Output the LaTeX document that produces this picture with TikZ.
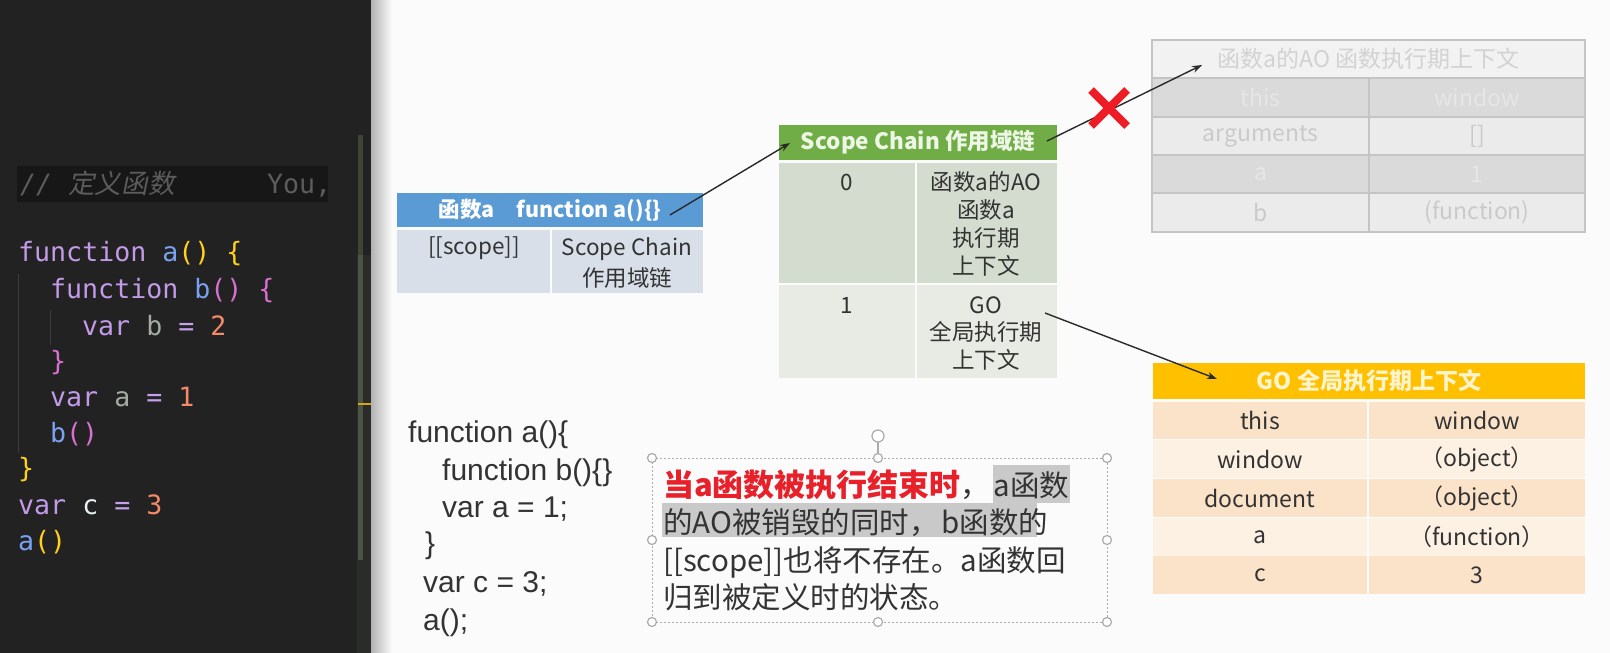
\documentclass[tikz,border=0pt]{standalone}
\usepackage{fontspec}
\usetikzlibrary{arrows.meta}
\setmainfont{Liberation Sans}
\newfontfamily\cjk{Noto Sans CJK SC}
\newfontfamily\cjksl{Noto Sans CJK SC}[FakeSlant=0.2]
\newfontfamily\mono{DejaVu Sans Mono}
\definecolor{codebg}{HTML}{222222}
\definecolor{cmtbg}{HTML}{171717}
\definecolor{cmt}{HTML}{5A5D5A}
\definecolor{kw}{HTML}{C39AE8}
\definecolor{fn}{HTML}{7BA2F2}
\definecolor{by}{HTML}{FFD11A}
\definecolor{bm}{HTML}{D86FD3}
\definecolor{vg}{HTML}{A3ACA3}
\definecolor{num}{HTML}{F48A67}
\definecolor{eqc}{HTML}{C8A0EE}
\definecolor{cw}{HTML}{E8F2F2}
\definecolor{guidec}{HTML}{3C3C3C}
\definecolor{sbdark}{HTML}{3E4535}
\definecolor{sblight}{HTML}{4A5444}
\definecolor{sbarea}{HTML}{2A2C2A}
\definecolor{markc}{HTML}{D9A516}
\definecolor{pagebg}{HTML}{FBFBFB}
\definecolor{txt}{HTML}{333333}
\definecolor{blueh}{HTML}{5B9BD5}
\definecolor{bluec}{HTML}{D9DFE9}
\definecolor{greenh}{HTML}{70AD47}
\definecolor{greent}{HTML}{EEF7E6}
\definecolor{greenA}{HTML}{D4DCCF}
\definecolor{greenB}{HTML}{E7EBE4}
\definecolor{aohead}{HTML}{F2F2F2}
\definecolor{aoA}{HTML}{DADADA}
\definecolor{aoB}{HTML}{EBEBEB}
\definecolor{aoline}{HTML}{C4C4C4}
\definecolor{aotA}{HTML}{E6E6E6}
\definecolor{aotB}{HTML}{CACACA}
\definecolor{aoth}{HTML}{D2D2D2}
\definecolor{gohc}{HTML}{FFC000}
\definecolor{goht}{HTML}{FFF4CC}
\definecolor{goA}{HTML}{FBE3C9}
\definecolor{goB}{HTML}{FDF1E4}
\definecolor{arrc}{HTML}{2A2A2A}
\definecolor{xred}{HTML}{EE1C24}
\definecolor{nred}{HTML}{E8202A}
\definecolor{hlc}{HTML}{C9C9C9}
\definecolor{hdl}{HTML}{ABABAB}
\tikzset{
  cell/.style={anchor=north west, inner sep=0pt, outer sep=0pt},
  tt/.style={font=\cjk\fontsize{22.5}{27.7}\selectfont, text=txt, align=center, inner sep=0pt},
  ttg/.style={font=\cjk\fontsize{23}{27.7}\selectfont, text=txt, align=center, inner sep=0pt},
  arr/.style={draw=arrc, line width=1.4pt, -{Stealth[length=10pt,width=7pt]}},
  handle/.style={circle, draw=hdl, fill=white, line width=1.2pt, minimum size=9pt, inner sep=0pt},
  codeln/.style={anchor=base west, inner sep=0pt, font=\mono\fontsize{26.6}{30}\selectfont, text=cw},
  jsln/.style={anchor=base west, inner sep=0pt, font=\fontsize{30}{36}\selectfont, text=txt},
  noteln/.style={anchor=base west, inner sep=0pt, font=\cjk\fontsize{29.5}{36}\selectfont, text=txt},
}
\begin{document}
\begin{tikzpicture}[x=1pt,y=-1pt]
\useasboundingbox (0,0) rectangle (1610,653);
% ---------- code editor panel ----------
\fill[fill=codebg] (0,0) rectangle (371,653);
\fill[fill=sbarea] (357,255) rectangle (371,653);
\fill[fill=sbdark] (358,135) rectangle (363,255);
\fill[fill=sblight] (358,255) rectangle (363,560);
\fill[fill=markc] (358,403) rectangle (371,405);
\fill[fill=cmtbg] (17,166) rectangle (328,202);
\node[codeln, text=cmt] (cm) at (20,193) {{\itshape //} {\cjksl 定义函数}};
\node[codeln, text=cmt] (you) at (267,193) {You,};
\draw[draw=guidec, line width=1pt] (18,274) -- (18,453);
\draw[draw=guidec, line width=1pt] (50,310) -- (50,345);
\node[codeln] (c1) at (18,261) {\textcolor{kw}{function} \textcolor{fn}{a}\textcolor{by}{()} \textcolor{by}{\{}};
\node[codeln] (c2) at (50,298) {\textcolor{kw}{function} \textcolor{fn}{b}\textcolor{bm}{()} \textcolor{bm}{\{}};
\node[codeln] (c3) at (82,335) {\textcolor{kw}{var} \textcolor{vg}{b} \textcolor{eqc}{=} \textcolor{num}{2}};
\node[codeln] (c4) at (50,370) {\textcolor{bm}{\}}};
\node[codeln] (c5) at (50,406) {\textcolor{kw}{var} \textcolor{vg}{a} \textcolor{eqc}{=} \textcolor{num}{1}};
\node[codeln] (c6) at (50,442) {\textcolor{fn}{b}\textcolor{bm}{()}};
\node[codeln] (c7) at (18,477) {\textcolor{by}{\}}};
\node[codeln] (c8) at (18,514) {\textcolor{kw}{var} \textcolor{cw}{c} \textcolor{eqc}{=} \textcolor{num}{3}};
\node[codeln] (c9) at (18,550) {\textcolor{fn}{a}\textcolor{by}{()}};
% ---------- slide ----------
\fill[fill=pagebg] (371,0) rectangle (1610,653);
\shade[left color=black!30, right color=pagebg] (371,0) rectangle (392,653);
% function a table
\node[cell, fill=blueh, minimum width=306pt, minimum height=34pt, font=\cjk\bfseries\fontsize{21.5}{26}\selectfont, text=white] (ahead) at (397,193) {函数a\hspace{22pt}function a()\{\}};
\node[cell, fill=bluec, minimum width=153pt, minimum height=63pt] (acell1) at (397,230) {};
\node[cell, fill=bluec, minimum width=151pt, minimum height=63pt] (acell2) at (552,230) {};
\node[tt, anchor=base] (ascope) at (474,254) {[[scope]]};
\node[tt, anchor=base, font=\cjk\fontsize{22.5}{31}\selectfont] (achain) at (627,286) {Scope Chain\\作用域链};
% scope chain table
\node[cell, fill=greenh, minimum width=278pt, minimum height=35pt, font=\cjk\bfseries\fontsize{22.5}{26}\selectfont, text=greent] (shead) at (779,125) {Scope Chain 作用域链};
\node[cell, fill=greenA, minimum width=136pt, minimum height=120pt] (s00) at (779,163) {};
\node[cell, fill=greenA, minimum width=140pt, minimum height=120pt] (s01) at (917,163) {};
\node[cell, fill=greenB, minimum width=136pt, minimum height=93pt] (s10) at (779,285) {};
\node[cell, fill=greenB, minimum width=140pt, minimum height=93pt] (s11) at (917,285) {};
\node[tt, anchor=base] (st0) at (847,190) {0};
\node[tt, anchor=base] (st0b) at (986,274) {函数a的AO\\函数a\\执行期\\上下文};
\node[tt, anchor=base] (st1) at (847,313) {1};
\node[tt, anchor=base] (st1b) at (986,368.5) {GO\\全局执行期\\上下文};
% faded AO table
\node[cell, fill=aohead, minimum width=433pt, minimum height=38pt, font=\cjk\fontsize{23}{26}\selectfont, text=aoth] (aoh) at (1152,40) {函数a的AO 函数执行期上下文};
\node[cell, fill=aoA, minimum width=217pt, minimum height=39pt, ttg, text=aotA] (ao1l) at (1152,78) {this};
\node[cell, fill=aoA, minimum width=216pt, minimum height=39pt, ttg, text=aotA] (ao1r) at (1369,78) {window};
\node[cell, fill=aoB, minimum width=217pt, minimum height=38pt, ttg, text=aotB] (ao2l) at (1152,117) {arguments};
\node[cell, fill=aoB, minimum width=216pt, minimum height=38pt, ttg, text=aotB] (ao2r) at (1369,117) {[]};
\node[cell, fill=aoA, minimum width=217pt, minimum height=38pt, ttg, text=aotA] (ao3l) at (1152,155) {a};
\node[cell, fill=aoA, minimum width=216pt, minimum height=38pt, ttg, text=aotA] (ao3r) at (1369,155) {1};
\node[cell, fill=aoB, minimum width=217pt, minimum height=39pt, ttg, text=aotB] (ao4l) at (1152,193) {b};
\node[cell, fill=aoB, minimum width=216pt, minimum height=39pt, ttg, text=aotB] (ao4r) at (1369,193) {(function)};
\draw[draw=aoline, line width=1.5pt] (1152,40) rectangle (1585,232);
\draw[draw=aoline, line width=1.2pt] (1152,78) -- (1585,78) (1152,117) -- (1585,117) (1152,155) -- (1585,155) (1152,193) -- (1585,193) (1369,78) -- (1369,232);
% GO table
\node[cell, fill=gohc, minimum width=432pt, minimum height=36pt, font=\cjk\bfseries\fontsize{23}{26}\selectfont, text=goht] (goh) at (1153,363) {GO 全局执行期上下文};
\node[cell, fill=goA, minimum width=214pt, minimum height=37pt, ttg] (g1l) at (1153,402) {this};
\node[cell, fill=goA, minimum width=216pt, minimum height=37pt, ttg] (g1r) at (1369,402) {window};
\node[cell, fill=goB, minimum width=214pt, minimum height=38pt, ttg] (g2l) at (1153,440) {window};
\node[cell, fill=goB, minimum width=216pt, minimum height=38pt, ttg] (g2r) at (1369,440) {（object）};
\node[cell, fill=goA, minimum width=214pt, minimum height=38pt, ttg] (g3l) at (1153,479) {document};
\node[cell, fill=goA, minimum width=216pt, minimum height=38pt, ttg] (g3r) at (1369,479) {（object）};
\node[cell, fill=goB, minimum width=214pt, minimum height=38pt, ttg] (g4l) at (1153,518) {a};
\node[cell, fill=goB, minimum width=216pt, minimum height=38pt, ttg] (g4r) at (1369,518) {（function）};
\node[cell, fill=goA, minimum width=214pt, minimum height=38pt, ttg] (g5l) at (1153,556) {c};
\node[cell, fill=goA, minimum width=216pt, minimum height=38pt, ttg] (g5r) at (1369,556) {3};
% arrows
\coordinate (p1s) at (670,215);
\coordinate (p1e) at (790,143);
\coordinate (p2s) at (1047,141);
\coordinate (p2e) at (1202,65);
\coordinate (p3s) at (1045,313);
\coordinate (p3e) at (1217,379);
\draw[arr] (p1s) -- (p1e);
\draw[arr] (p2s) -- (p2e);
\draw[arr] (p3s) -- (p3e);
% red cross
\coordinate (xc) at (1109,108);
\draw[draw=xred, line width=8pt] ([shift={(-18,-18)}]xc) -- ([shift={(18,18)}]xc);
\draw[draw=xred, line width=8pt] ([shift={(-18,18)}]xc) -- ([shift={(18,-18)}]xc);
% lower js code
\node[jsln] (j1) at (408,442) {function a()\{};
\node[jsln] (j2) at (442,480) {function b()\{\}};
\node[jsln] (j3) at (442,517) {var a = 1;};
\node[jsln] (j4) at (425,553) {\}};
\node[jsln] (j5) at (423,592) {var c = 3;};
\node[jsln] (j6) at (423,630) {a();};
% note text box
\fill[fill=hlc] (993,465) rectangle (1070,503);
\fill[fill=hlc] (662,503) rectangle (1037,537);
\draw[draw=hdl, line width=1pt, dash pattern=on 2pt off 2pt] (652,458) rectangle (1107,622);
\draw[draw=hdl, line width=1.2pt] (878,442) -- (878,458);
\node[handle, minimum size=12pt] (rot) at (878,436) {};
\foreach \p/\n in {{(652,458)}/h1,{(878,458)}/h2,{(1107,458)}/h3,{(652,540)}/h4,{(1107,540)}/h5,{(652,622)}/h6,{(878,622)}/h7,{(1107,622)}/h8}
  \node[handle] (\n) at \p {};
\node[noteln] (n1) at (663,496) {{\color{nred}\bfseries\fontsize{31}{36}\selectfont 当a函数被执行结束时}，\hspace{3pt}a函数};
\node[noteln] (n2) at (663,533) {的AO被销毁的同时，\hspace{3pt}b函数的};
\node[noteln] (n3) at (663,571) {[[scope]]也将不存在。a函数回};
\node[noteln] (n4) at (663,608) {归到被定义时的状态。};
\end{tikzpicture}
\end{document}
